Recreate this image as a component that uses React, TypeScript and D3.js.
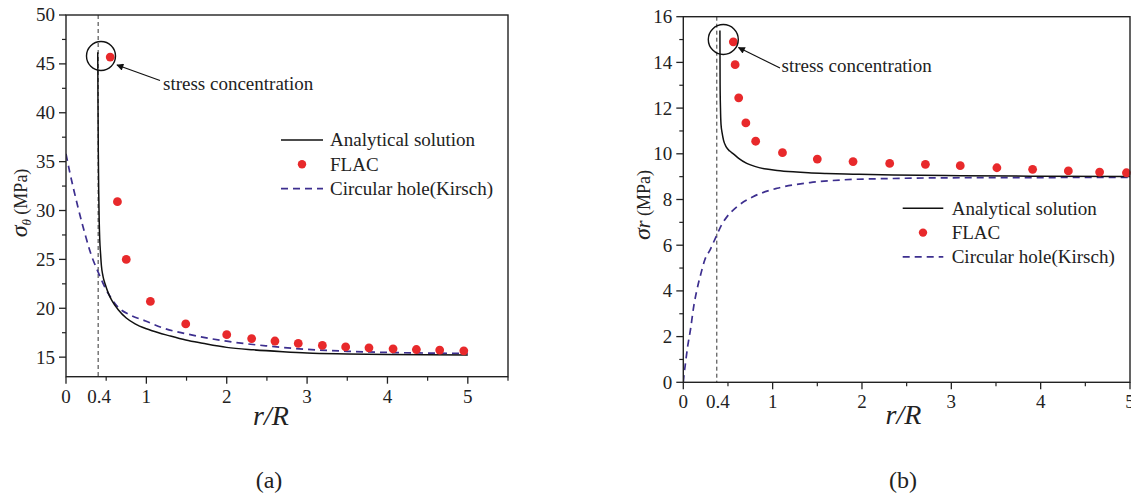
import React from 'react';
import * as d3 from 'd3';

const FONT = "'Liberation Serif', 'Times New Roman', serif";

// ---------- Panel (a): hoop stress sigma_theta ----------
const aAnalyticalR = [0.395, 0.398, 0.402, 0.407, 0.413, 0.42, 0.43, 0.44, 0.46, 0.49, 0.524, 0.57, 0.65, 0.75, 0.86, 1.0, 1.07, 1.28, 1.49, 1.7, 2.0, 2.33, 2.7, 3.0, 3.5, 4.0, 4.5, 5.0];
const aAnalyticalV = [46.2, 41.0, 36.0, 32.0, 29.0, 27.0, 25.6, 24.4, 23.3, 22.4, 21.6, 20.8, 19.85, 19.0, 18.4, 17.9, 17.7, 17.2, 16.75, 16.42, 16.0, 15.75, 15.55, 15.42, 15.33, 15.27, 15.24, 15.22];
const aKirschR = [0, 0.05, 0.1, 0.15, 0.2, 0.25, 0.3, 0.4, 0.5, 0.65, 0.8, 0.99, 1.2, 1.49, 2.0, 2.5, 3.0, 3.5, 4.0, 4.5, 5.0];
const aKirschV = [35.8, 33.8, 32.0, 30.3, 28.7, 27.2, 25.8, 23.7, 21.9, 20.1, 19.3, 18.7, 18.0, 17.4, 16.63, 16.15, 15.8, 15.6, 15.48, 15.42, 15.38];
const aFlacR = [0.55, 0.64, 0.75, 1.05, 1.49, 2.0, 2.31, 2.6, 2.89, 3.19, 3.48, 3.77, 4.07, 4.36, 4.65, 4.95];
const aFlacV = [45.7, 30.9, 25.0, 20.7, 18.4, 17.3, 16.9, 16.65, 16.4, 16.2, 16.05, 15.95, 15.85, 15.78, 15.72, 15.65];
const aYMajor = [15, 20, 25, 30, 35, 40, 45, 50];
const aYMinor = [17.5, 22.5, 27.5, 32.5, 37.5, 42.5, 47.5];
const aXMajor = [0, 1, 2, 3, 4, 5];
const aXMinor = [0.5, 1.5, 2.5, 3.5, 4.5, 5.5];

// ---------- Panel (b): radial stress sigma_r ----------
const bAnalyticalR = [0.41, 0.412, 0.416, 0.422, 0.435, 0.45, 0.48, 0.52, 0.56, 0.62, 0.71, 0.8, 0.93, 1.05, 1.23, 1.4, 1.6, 1.9, 2.35, 3.1, 4.0, 5.0];
const bAnalyticalV = [15.4, 13.0, 12.0, 11.3, 10.9, 10.6, 10.3, 10.12, 10.0, 9.8, 9.58, 9.45, 9.33, 9.27, 9.21, 9.17, 9.14, 9.11, 9.07, 9.04, 9.02, 9.01];
const bKirschR = [0, 0.01, 0.02, 0.05, 0.08, 0.12, 0.15, 0.2, 0.24, 0.3, 0.37, 0.43, 0.49, 0.6, 0.78, 1.05, 1.42, 1.79, 2.35, 3.0, 4.0, 5.0];
const bKirschV = [0, 0.4, 0.7, 1.6, 2.3, 3.4, 4.0, 4.8, 5.35, 5.8, 6.4, 6.9, 7.25, 7.68, 8.12, 8.49, 8.74, 8.86, 8.92, 8.95, 8.96, 8.97];
const bFlacR = [0.56, 0.58, 0.62, 0.7, 0.81, 1.11, 1.5, 1.9, 2.31, 2.71, 3.1, 3.51, 3.91, 4.31, 4.66, 4.96];
const bFlacV = [14.9, 13.9, 12.45, 11.35, 10.55, 10.05, 9.77, 9.66, 9.58, 9.54, 9.48, 9.39, 9.32, 9.25, 9.2, 9.17];
const bYMajor = [0, 2, 4, 6, 8, 10, 12, 14, 16];
const bYMinor = [1, 3, 5, 7, 9, 11, 13, 15];
const bXMajor = [0, 1, 2, 3, 4, 5];
const bXMinor = [0.5, 1.5, 2.5, 3.5, 4.5];

const legendLabels = ['Analytical solution', 'FLAC', 'Circular hole(Kirsch)'];

const RED = '#e8292b';
const BLUE = '#3d2f8f';
const AXIS = '#222';

type Panel = {
  x: d3.ScaleLinear<number, number>;
  y: d3.ScaleLinear<number, number>;
  analytical: [number, number][];
  kirsch: [number, number][];
  flac: [number, number][];
  yMajor: number[];
  yMinor: number[];
  xMajor: number[];
  xMinor: number[];
  refX: number;
  legend: { x1: number; x2: number; y: number; tx: number };
  circle: { cx: number; cy: number; r: number };
  arrow: { x1: number; y1: number; x2: number; y2: number };
  stressText: { x: number; y: number };
  xLabel: { x: number; y: number };
  caption: { x: number; y: number; t: string };
  yLabelX: number;
  yLabelY: number;
  yLabel: 'theta' | 'r';
};

const zip = (a: number[], b: number[]) => a.map((v, i) => [v, b[i]] as [number, number]);

const panels: Panel[] = [
  {
    x: d3.scaleLinear().domain([0, 5.5]).range([66, 508]),
    y: d3.scaleLinear().domain([13, 50]).range([376.7, 15]),
    analytical: zip(aAnalyticalR, aAnalyticalV),
    kirsch: zip(aKirschR, aKirschV),
    flac: zip(aFlacR, aFlacV),
    yMajor: aYMajor, yMinor: aYMinor, xMajor: aXMajor, xMinor: aXMinor,
    refX: 0.4,
    legend: { x1: 281, x2: 323, y: 140, tx: 330 },
    circle: { cx: 101, cy: 56, r: 14.5 },
    arrow: { x1: 160, y1: 80.5, x2: 117, y2: 65 },
    stressText: { x: 163, y: 90 },
    xLabel: { x: 271, y: 425 },
    caption: { x: 269, y: 488, t: '(a)' },
    yLabelX: 27, yLabelY: 203, yLabel: 'theta',
  },
  {
    x: d3.scaleLinear().domain([0, 5]).range([683.3, 1130]),
    y: d3.scaleLinear().domain([0, 16]).range([382.3, 16.7]),
    analytical: zip(bAnalyticalR, bAnalyticalV),
    kirsch: zip(bKirschR, bKirschV),
    flac: zip(bFlacR, bFlacV),
    yMajor: bYMajor, yMinor: bYMinor, xMajor: bXMajor, xMinor: bXMinor,
    refX: 0.375,
    legend: { x1: 902.7, x2: 943.3, y: 208.3, tx: 951.7 },
    circle: { cx: 723.3, cy: 39.5, r: 15 },
    arrow: { x1: 780, y1: 68, x2: 738.5, y2: 47.5 },
    stressText: { x: 781.5, y: 72 },
    xLabel: { x: 903.5, y: 424 },
    caption: { x: 903, y: 488, t: '(b)' },
    yLabelX: 650, yLabelY: 205, yLabel: 'r',
  },
];

const txt = (size: number, italic = false): React.CSSProperties => ({
  fontFamily: FONT,
  fontSize: `${size}px`,
  fontStyle: italic ? 'italic' : 'normal',
  fill: '#222',
});

function PanelView({ p, idx }: { p: Panel; idx: number }) {
  const { x, y } = p;
  const [x0, x1] = x.range();
  const [yb, yt] = y.range();
  const line = d3.line<[number, number]>().x(d => x(d[0])).y(d => y(d[1])).curve(d3.curveMonotoneX);
  const rowGap = 24.3;
  const L = p.legend;
  return (
    <g>
      <defs>
        <marker id={`arrow${idx}`} viewBox="0 0 10 10" refX="9" refY="5" markerWidth="9" markerHeight="7" markerUnits="userSpaceOnUse" orient="auto">
          <path d="M0,0 L10,5 L0,10 Z" fill="#111" />
        </marker>
        <clipPath id={`clip${idx}`}>
          <rect x={x0} y={yt} width={x1 - x0} height={yb - yt} />
        </clipPath>
      </defs>
      <line x1={x(p.refX)} x2={x(p.refX)} y1={yt} y2={yb} stroke="#333" strokeWidth={1} strokeDasharray="4,3" />
      <g clipPath={`url(#clip${idx})`}>
        <path d={line(p.kirsch) || ''} fill="none" stroke={BLUE} strokeWidth={1.7} strokeDasharray="7,5" />
        <path d={line(p.analytical) || ''} fill="none" stroke="#111" strokeWidth={1.5} />
      </g>
      {p.flac.map((d, i) => (
        <circle key={i} cx={x(d[0])} cy={y(d[1])} r={4.4} fill={RED} />
      ))}
      <rect x={x0} y={yt} width={x1 - x0} height={yb - yt} fill="none" stroke={AXIS} strokeWidth={1.4} />
      {p.yMajor.map(v => (
        <g key={`ym${v}`}>
          <line x1={x0 - 7} x2={x0} y1={y(v)} y2={y(v)} stroke={AXIS} strokeWidth={1.3} />
          <text x={x0 - 11} y={y(v)} dy="0.34em" textAnchor="end" style={txt(19)}>{v}</text>
        </g>
      ))}
      {p.yMinor.map(v => (
        <line key={`yn${v}`} x1={x0 - 4} x2={x0} y1={y(v)} y2={y(v)} stroke={AXIS} strokeWidth={1.2} />
      ))}
      {p.xMajor.map(v => (
        <g key={`xm${v}`}>
          <line x1={x(v)} x2={x(v)} y1={yb} y2={yb + 7} stroke={AXIS} strokeWidth={1.3} />
          <text x={x(v)} y={yb + 26} textAnchor="middle" style={txt(19)}>{v}</text>
        </g>
      ))}
      {p.xMinor.map(v => (
        <line key={`xn${v}`} x1={x(v)} x2={x(v)} y1={yb} y2={yb + 4} stroke={AXIS} strokeWidth={1.2} />
      ))}
      <text x={x(p.refX) + 1} y={yb + 26} textAnchor="middle" style={txt(19)}>0.4</text>
      <circle cx={p.circle.cx} cy={p.circle.cy} r={p.circle.r} fill="none" stroke="#111" strokeWidth={1.4} />
      <line x1={p.arrow.x1} y1={p.arrow.y1} x2={p.arrow.x2} y2={p.arrow.y2} stroke="#111" strokeWidth={1.2} markerEnd={`url(#arrow${idx})`} />
      <text x={p.stressText.x} y={p.stressText.y} style={txt(19)}>stress concentration</text>
      <line x1={L.x1} x2={L.x2} y1={L.y} y2={L.y} stroke="#111" strokeWidth={1.5} />
      <circle cx={(L.x1 + L.x2) / 2} cy={L.y + rowGap} r={4.2} fill={RED} />
      <line x1={L.x1} x2={L.x2} y1={L.y + 2 * rowGap} y2={L.y + 2 * rowGap} stroke={BLUE} strokeWidth={1.7} strokeDasharray="7,5" />
      {legendLabels.map((t, i) => (
        <text key={t} x={L.tx} y={L.y + i * rowGap} dy="0.33em" style={txt(19)}>{t}</text>
      ))}
      <text x={p.xLabel.x} y={p.xLabel.y} textAnchor="middle" style={txt(28, true)}>r/R</text>
      <text x={p.caption.x} y={p.caption.y} textAnchor="middle" style={txt(24)}>{p.caption.t}</text>
      <text transform={`translate(${p.yLabelX},${p.yLabelY}) rotate(-90)`} textAnchor="middle" style={txt(18)}>
        {p.yLabel === 'theta' ? (
          <>
            <tspan style={txt(24, true)}>σ</tspan>
            <tspan style={txt(13, true)} dy={4}>θ</tspan>
            <tspan style={txt(18)} dy={-4}> (MPa)</tspan>
          </>
        ) : (
          <>
            <tspan style={txt(24, true)}>σ</tspan>
            <tspan style={txt(20, true)}>r</tspan>
            <tspan style={txt(18)}> (MPa)</tspan>
          </>
        )}
      </text>
    </g>
  );
}

export default function App() {
  return (
    <svg width={1131} height={499} style={{ position: 'absolute', left: 0, top: 0, background: '#fff' }}>
      <rect x={0} y={0} width={1131} height={499} fill="#fff" />
      {panels.map((p, i) => (
        <PanelView key={i} p={p} idx={i} />
      ))}
    </svg>
  );
}
